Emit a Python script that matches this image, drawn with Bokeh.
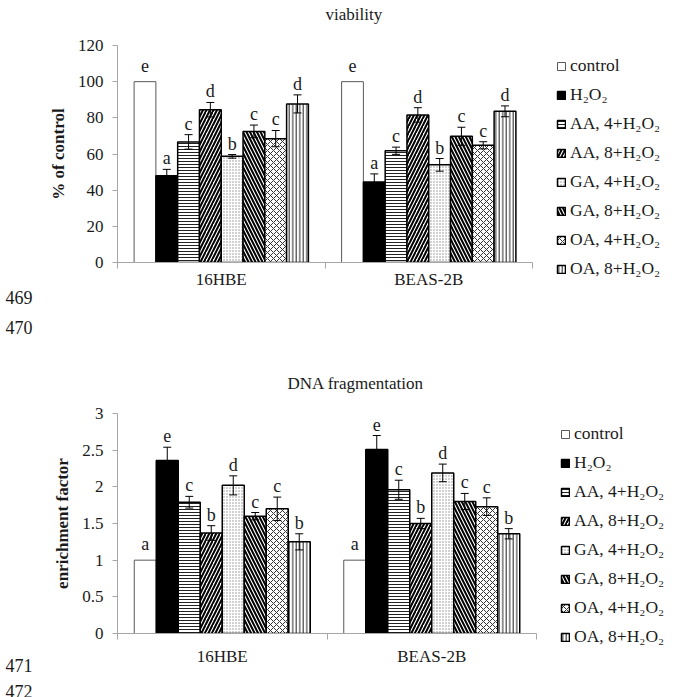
from bokeh.plotting import figure
from bokeh.models import (ColumnDataSource, Range1d, FixedTicker, SingleIntervalTicker,
                          Whisker, TeeHead, LabelSet, Legend, LegendItem, NumeralTickFormatter)
from bokeh.layouts import column, row
from bokeh.embed import file_html
from bokeh.resources import INLINE
from bokeh.core.properties import value

# ---------------- data ----------------
cells = ["16HBE", "BEAS-2B"]
treatments = ["control", "H\u2082O\u2082", "AA, 4+H\u2082O\u2082", "AA, 8+H\u2082O\u2082",
              "GA, 4+H\u2082O\u2082", "GA, 8+H\u2082O\u2082", "OA, 4+H\u2082O\u2082", "OA, 8+H\u2082O\u2082"]

viab_16hbe = [100, 48, 66.7, 84.5, 58.7, 72.5, 68.5, 87.7]
viab_16hbe_err = [0, 3.5, 4, 4, 1, 3.5, 4.5, 5]
viab_beas = [100, 44.5, 61.8, 81.6, 54, 69.8, 64.8, 83.6]
viab_beas_err = [0, 4.5, 2, 4, 3.5, 5, 2, 3]
viab_letters_16hbe = ["e", "a", "c", "d", "b", "c", "c", "d"]
viab_letters_beas = ["e", "a", "c", "d", "b", "c", "c", "d"]

dna_16hbe = [1, 2.36, 1.79, 1.37, 2.02, 1.60, 1.70, 1.25]
dna_16hbe_err = [0, 0.18, 0.08, 0.10, 0.13, 0.05, 0.16, 0.11]
dna_beas = [1, 2.51, 1.96, 1.50, 2.19, 1.80, 1.73, 1.36]
dna_beas_err = [0, 0.19, 0.13, 0.07, 0.12, 0.11, 0.12, 0.07]
dna_letters_16hbe = ["a", "e", "c", "b", "d", "c", "c", "b"]
dna_letters_beas = ["a", "e", "c", "b", "d", "c", "c", "b"]

titles = ["viability", "DNA fragmentation"]
line_numbers = ["469", "470", "471", "472"]

# ---------------- styles ----------------
FONT = "Liberation Serif"
TXT = "#1a1a1a"
AXIS_GREY = "#a6a6a6"
PAGE_W = 685
NUMW = 45  # width of the left strip holding the manuscript line numbers
styles = [
    dict(fill_color="white", line_color="#595959", line_width=1),
    dict(fill_color="black", line_color="black", line_width=1.5),
    dict(fill_color="white", line_color="black", line_width=1.5,
         hatch_pattern="horizontal_line", hatch_scale=3, hatch_weight=1, hatch_color="#222222"),
    dict(fill_color="white", line_color="black", line_width=1.5,
         hatch_pattern="right_diagonal_line", hatch_scale=7, hatch_weight=2, hatch_color="black"),
    dict(fill_color="white", line_color="black", line_width=1.5,
         hatch_pattern="dot", hatch_scale=3, hatch_weight=0.8, hatch_color="#8c8c8c"),
    dict(fill_color="white", line_color="black", line_width=1.5,
         hatch_pattern="left_diagonal_line", hatch_scale=7, hatch_weight=2, hatch_color="black"),
    dict(fill_color="white", line_color="black", line_width=1.5,
         hatch_pattern="diagonal_cross", hatch_scale=6, hatch_weight=1, hatch_color="#333333"),
    dict(fill_color="white", line_color="black", line_width=1.5,
         hatch_pattern="vertical_line", hatch_scale=3.5, hatch_weight=1, hatch_color="#222222"),
]
BW = 0.105


def make_panel(title, ylabel, y_end, interval, v1, e1, v2, e2, l1, l2,
               geom, title_offset, title_standoff, legend_loc, x_standoff):
    left, fw, fh, top, bottom = geom
    p = figure(x_range=Range1d(0, 2), y_range=Range1d(0, y_end),
               frame_width=fw, frame_height=fh,
               min_border_left=left - NUMW, min_border_right=PAGE_W - left - fw,
               min_border_top=top, min_border_bottom=bottom,
               toolbar_location=None, output_backend="svg",
               outline_line_color=None, background_fill_color="white",
               border_fill_color="white")
    p.xgrid.visible = False
    p.ygrid.visible = False

    # an empty second line lifts the title away from the frame
    p.title.text = title + "\n "
    p.title.align = "left"
    p.title.offset = title_offset
    p.title.standoff = title_standoff
    p.title.text_font = FONT
    p.title.text_font_size = "17px"
    p.title.text_font_style = "normal"
    p.title.text_color = TXT

    vals = [v1, v2]
    errs = [e1, e2]
    lets = [l1, l2]
    items = []
    wx, wu, wl, tx, ty, tt, to = [], [], [], [], [], [], []
    for i, t in enumerate(treatments):
        xs = [c + 0.5 + (i - 3.5) * BW for c in range(len(cells))]
        tops = [vals[c][i] for c in range(len(cells))]
        src = ColumnDataSource(dict(x=xs, top=tops))
        r = p.vbar(x="x", top="top", width=BW, source=src, **styles[i])
        items.append(LegendItem(label=t, renderers=[r]))
        for c in range(len(cells)):
            v, e = vals[c][i], errs[c][i]
            if e > 0:
                wx.append(xs[c]); wu.append(v + e); wl.append(v - e)
            tx.append(xs[c]); ty.append(v + e); tt.append(lets[c][i])
            to.append(5 if e > 0 else 10)

    wsrc = ColumnDataSource(dict(x=wx, upper=wu, lower=wl))
    wh = Whisker(base="x", upper="upper", lower="lower", source=wsrc, dimension="height",
                 line_color="black", line_width=1, level="overlay",
                 upper_head=TeeHead(size=8, line_width=1, line_color="black"),
                 lower_head=TeeHead(size=8, line_width=1, line_color="black"))
    p.add_layout(wh)

    lsrc = ColumnDataSource(dict(x=tx, y=ty, t=tt, off=to))
    p.add_layout(LabelSet(x="x", y="y", text="t", source=lsrc, text_font=value(FONT),
                          text_font_size="18px", text_color=TXT, text_align="center",
                          text_baseline="alphabetic", y_offset="off"))

    # axes
    xa = p.xaxis[0]
    xa.ticker = FixedTicker(ticks=[0.5, 1.5], minor_ticks=[0, 1, 2])
    xa.major_label_overrides = {0.5: cells[0], 1.5: cells[1]}
    xa.major_tick_out = 0
    xa.major_tick_in = 0
    xa.minor_tick_out = 6
    xa.minor_tick_in = 0
    xa.minor_tick_line_color = AXIS_GREY
    xa.axis_line_color = AXIS_GREY
    xa.major_label_text_font = FONT
    xa.major_label_text_font_size = "17px"
    xa.major_label_text_color = TXT
    xa.major_label_standoff = x_standoff

    ya = p.yaxis[0]
    ya.ticker = SingleIntervalTicker(interval=interval, num_minor_ticks=0)
    ya.formatter = NumeralTickFormatter(format="0.[0]")
    ya.major_tick_out = 5
    ya.major_tick_in = 0
    ya.minor_tick_line_color = None
    ya.major_tick_line_color = AXIS_GREY
    ya.axis_line_color = AXIS_GREY
    ya.major_label_text_font = FONT
    ya.major_label_text_font_size = "17px"
    ya.major_label_text_color = TXT
    ya.major_label_standoff = 9
    ya.axis_label = ylabel
    ya.axis_label_text_font = FONT
    ya.axis_label_text_font_size = "17px"
    ya.axis_label_text_font_style = "bold"
    ya.axis_label_text_color = TXT
    ya.axis_label_standoff = 7

    # legend in right panel
    leg = Legend(items=items, location=legend_loc, glyph_width=10, glyph_height=10,
                 label_height=20, spacing=8, padding=0, margin=0,
                 border_line_color=None, background_fill_alpha=0,
                 label_text_font=FONT, label_text_font_size="17.5px",
                 label_text_color=TXT, label_standoff=4)
    p.add_layout(leg, "right")
    return p


p1 = make_panel(titles[0], "% of control", 120, 20,
                viab_16hbe, viab_16hbe_err, viab_beas, viab_beas_err,
                viab_letters_16hbe, viab_letters_beas,
                geom=(117, 415, 217, 45, 83), title_offset=208, title_standoff=5,
                legend_loc=(24, -17), x_standoff=1)

p2 = make_panel(titles[1], "enrichment factor", 3, 0.5,
                dna_16hbe, dna_16hbe_err, dna_beas, dna_beas_err,
                dna_letters_16hbe, dna_letters_beas,
                geom=(113, 419, 220, 68, 64), title_offset=170, title_standoff=3,
                legend_loc=(24, -14), x_standoff=7)

# left strip with the manuscript line numbers (page decoration)
num_y = [297, 327, 665, 691]
pn = figure(width=NUMW, height=697, x_range=Range1d(0, NUMW), y_range=Range1d(697, 0),
            min_border=0, toolbar_location=None, output_backend="svg",
            outline_line_color=None, border_fill_color="white")
pn.axis.visible = False
pn.grid.visible = False
pn.text(x=[5] * len(line_numbers), y=num_y, text=line_numbers, text_font=value(FONT),
        text_font_size="18px", text_color=TXT, text_align="left", text_baseline="middle")

layout = row(pn, column(p1, p2, spacing=0), spacing=0)
open("out.html", "w").write(file_html(layout, INLINE))
